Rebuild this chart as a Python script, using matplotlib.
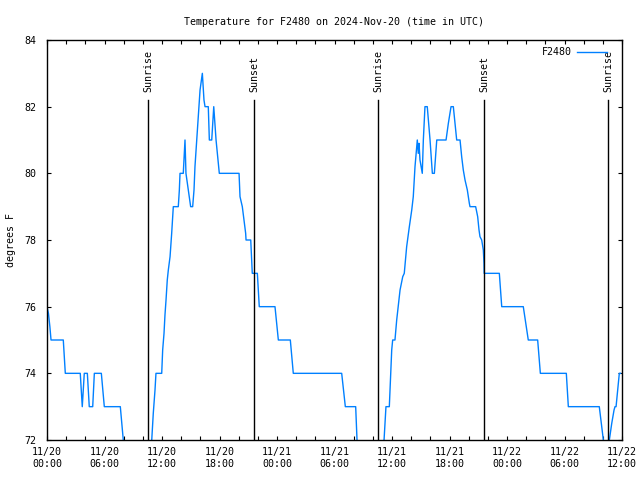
import datetime as dt
import matplotlib
matplotlib.use('Agg')
import matplotlib.pyplot as plt
import matplotlib.dates as mdates

# hours since 2024-11-20 00:00 UTC and temperature (F)
hours = [0.00, 0.15, 0.30, 0.42, 1.70, 1.91, 3.47, 3.68, 3.89, 4.21, 4.41, 4.77,
         4.94, 5.67, 5.98, 7.65, 7.96, 8.60, 9.50, 10.30, 10.93, 11.09, 11.27,
         11.37, 11.97, 12.07, 12.21, 12.31, 12.42, 12.55, 12.66, 12.84, 13.01,
         13.18, 13.70, 13.81, 13.88, 14.22, 14.40, 14.50, 14.74, 14.99, 15.20,
         15.34, 15.44, 15.68, 15.97, 16.21, 16.38, 16.49, 16.83, 16.94, 17.19,
         17.40, 17.64, 17.98, 20.04, 20.14, 20.38, 20.73, 20.77, 21.26, 21.36,
         21.42, 21.95, 22.15, 23.79, 24.14, 25.39, 25.70, 30.75, 31.13, 32.21,
         32.35, 33.00, 34.00, 34.80, 35.17, 35.37, 35.72, 35.97, 36.07, 36.31,
         36.49, 36.84, 37.12, 37.28, 37.53, 37.81, 38.06, 38.22, 38.40, 38.58,
         38.64, 38.74, 38.82, 38.92, 39.10, 39.16, 39.27, 39.44, 39.68, 39.97,
         40.21, 40.42, 40.67, 41.64, 41.88, 42.16, 42.40, 42.57, 42.75, 43.10,
         43.27, 43.44, 43.62, 43.86, 44.07, 44.14, 44.73, 44.94, 45.08, 45.18,
         45.36, 45.53, 45.60, 45.62, 47.20, 47.45, 49.70, 50.22, 51.20, 51.48,
         54.19, 54.40, 57.63, 58.05, 58.35, 58.68, 58.93, 59.17, 59.27, 59.38,
         59.45, 59.62, 59.72, 59.85]
temps = [76.0, 75.8, 75.4, 75.0, 75.0, 74.0, 74.0, 73.0, 74.0, 74.0, 73.0, 73.0,
         74.0, 74.0, 73.0, 73.0, 72.0, 71.0, 70.5, 71.0, 72.0, 72.8, 73.5,
         74.0, 74.0, 74.7, 75.2, 75.75, 76.2, 76.8, 77.1, 77.5, 78.2,
         79.0, 79.0, 79.5, 80.0, 80.0, 81.0, 80.0, 79.5, 79.0, 79.0,
         79.5, 80.2, 81.25, 82.5, 83.0, 82.2, 82.0, 82.0, 81.0, 81.0,
         82.0, 81.0, 80.0, 80.0, 79.3, 79.0, 78.2, 78.0, 78.0, 77.4,
         77.0, 77.0, 76.0, 76.0, 75.0, 75.0, 74.0, 74.0, 73.0, 73.0,
         72.0, 71.0, 70.8, 71.3, 72.0, 73.0, 73.0, 74.7, 75.0, 75.0,
         75.6, 76.5, 76.9, 77.0, 77.8, 78.4, 78.9, 79.3, 80.2, 80.8,
         81.0, 80.6, 80.9, 80.4, 80.1, 80.0, 81.0, 82.0, 82.0, 81.0,
         80.0, 80.0, 81.0, 81.0, 81.5, 82.0, 82.0, 81.5, 81.0, 81.0,
         80.5, 80.1, 79.8, 79.5, 79.1, 79.0, 79.0, 78.7, 78.3, 78.1,
         78.0, 77.7, 77.3, 77.0, 77.0, 76.0, 76.0, 75.0, 75.0, 74.0,
         74.0, 73.0, 73.0, 72.0, 71.3, 72.0, 72.5, 72.9, 73.0, 73.0,
         73.2, 73.7, 74.0, 74.0]

sun_times = ['2024-11-20 10:34', '2024-11-20 21:36', '2024-11-21 10:34',
             '2024-11-21 21:36', '2024-11-22 10:34']
sun_labels = ['Sunrise', 'Sunset', 'Sunrise', 'Sunset', 'Sunrise']

plt.rcParams['font.family'] = ['DejaVu Sans Mono']
fs = 7.2

start = dt.datetime(2024, 11, 20, 0, 0)
times = [start + dt.timedelta(hours=h) for h in hours]

fig = plt.figure(figsize=(6.4, 4.8), dpi=100)
ax = fig.add_axes([47/640, 40/480, 575/640, 400/480])

ax.plot(times, temps, color='#0080ff', lw=1.0, label='F2480')

for t, lab in zip(sun_times, sun_labels):
    x = dt.datetime.strptime(t, '%Y-%m-%d %H:%M')
    ax.axvline(x, ymin=0, ymax=0.851, color='black', lw=1.0)
    ax.text(x, 82.44, lab, rotation=90, ha='center', va='bottom', fontsize=fs)

ax.set_xlim(start, start + dt.timedelta(hours=60))
ax.set_ylim(72, 84)
ax.set_yticks(range(72, 85, 2))
ax.xaxis.set_major_locator(mdates.HourLocator(byhour=range(0, 24, 6)))
ax.xaxis.set_minor_locator(mdates.HourLocator(byhour=range(0, 24, 2)))
ax.xaxis.set_major_formatter(mdates.DateFormatter('%m/%d\n%H:%M'))

ax.tick_params(which='both', direction='in', top=True, right=True,
               length=3, width=0.8, labelsize=fs)
ax.tick_params(axis='y', pad=8)
ax.tick_params(axis='x', pad=5)
for s in ax.spines.values():
    s.set_linewidth(1.0)

# y label sits near the left edge of the figure
fig.text(11/640, 0.5, 'degrees F', rotation=90, ha='center', va='center', fontsize=fs)
ax.set_title('Temperature for F2480 on 2024-Nov-20 (time in UTC)', fontsize=fs, pad=11)

ax.legend(loc='upper right', bbox_to_anchor=(0.99, 1.005), frameon=False,
          markerfirst=False, fontsize=fs, handlelength=3.0, handletextpad=0.5)

fig.savefig('out.png', dpi=100)
